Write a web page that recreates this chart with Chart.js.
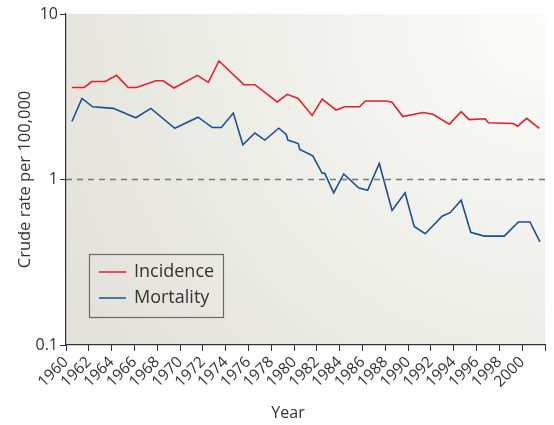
<!DOCTYPE html>
<html>
<head>
<meta charset="utf-8">
<script src="https://cdn.jsdelivr.net/npm/chart.js@4/dist/chart.umd.min.js"></script>
<style>
  body { margin: 0; background: #ffffff; }
  #chart { display: block; }
</style>
</head>
<body>
<canvas id="chart" width="554" height="425"></canvas>
<script>
// Crude incidence and mortality rates per 100,000

const incidenceYears = [1960.52, 1961.60, 1962.27, 1963.44, 1964.44, 1965.45, 1966.19, 1967.87, 1968.51, 1969.47,
  1971.52, 1972.48, 1973.41, 1975.60, 1976.56, 1978.52, 1979.40, 1980.36, 1981.58, 1982.46,
  1983.68, 1984.44, 1985.75, 1986.25, 1988.08, 1988.58, 1989.54, 1991.30, 1992.17, 1993.62,
  1994.65, 1995.35, 1996.75, 1997.04, 1999.22, 1999.60, 2000.40, 2001.50];
const incidence = [3.60, 3.60, 3.91, 3.91, 4.26, 3.60, 3.60, 3.95, 3.95, 3.57,
  4.26, 3.86, 5.20, 3.74, 3.74, 2.94, 3.27, 3.09, 2.44, 3.06,
  2.63, 2.75, 2.75, 2.98, 2.98, 2.93, 2.40, 2.54, 2.48, 2.16,
  2.57, 2.30, 2.33, 2.20, 2.18, 2.10, 2.34, 2.04];

const mortalityYears = [1960.52, 1961.40, 1962.34, 1964.14, 1966.12, 1967.44, 1969.54, 1971.57, 1972.83, 1973.62,
  1974.67, 1975.51, 1976.56, 1977.44, 1978.66, 1979.31, 1979.45, 1980.36, 1980.50, 1981.64,
  1982.46, 1982.69, 1983.47, 1984.35, 1985.66, 1986.45, 1987.47, 1988.59, 1989.73, 1990.53,
  1991.50, 1992.98, 1993.68, 1994.65, 1995.49, 1996.68, 1998.43, 1999.66, 2000.68, 2001.56];
const mortality = [2.24, 3.09, 2.75, 2.69, 2.36, 2.69, 2.04, 2.38, 2.06, 2.06,
  2.52, 1.62, 1.91, 1.73, 2.04, 1.87, 1.73, 1.65, 1.52, 1.39,
  1.09, 1.09, 0.83, 1.08, 0.89, 0.86, 1.25, 0.65, 0.83, 0.52,
  0.47, 0.60, 0.63, 0.75, 0.48, 0.455, 0.455, 0.554, 0.554, 0.42];

const yearRange = [1960, 2002];
const referenceLevel = 1;
const yTickValues = [0.1, 1, 10];
const seriesNames = ['Incidence', 'Mortality'];
const xTitle = 'Year';

const FONT = '"Open Sans", "DejaVu Sans", sans-serif';
const TEXT = '#333333';
const RED = '#e3202b';
const BLUE = '#1d4f8f';

const toPoints = (xs, ys) => xs.map((x, i) => ({ x: x, y: ys[i] }));

// soft grey wash behind the plot, lighter toward the top right
const backgroundPlugin = {
  id: 'plotBackground',
  beforeDraw(chart) {
    const { ctx, chartArea: a } = chart;
    const g = ctx.createRadialGradient(a.right, a.top, 0, a.right, a.top, 560);
    g.addColorStop(0, '#fbfbfa');
    g.addColorStop(0.35, '#f3f3ef');
    g.addColorStop(1, '#e2e2da');
    ctx.save();
    ctx.fillStyle = g;
    ctx.fillRect(a.left, a.top, a.right - a.left, a.bottom - a.top);
    ctx.restore();
  }
};

// boxed legend in the lower left of the plot, plus the x title (sits left of centre)
const boxLegendPlugin = {
  id: 'boxLegend',
  afterDraw(chart) {
    const { ctx, chartArea: a } = chart;
    const x = a.left + 23, y = a.top + 240, w = 134, h = 63;
    ctx.save();
    ctx.strokeStyle = '#6a6a6a';
    ctx.lineWidth = 1.2;
    ctx.strokeRect(x + 0.5, y + 0.5, w, h);
    ctx.font = '18px ' + FONT;
    ctx.textBaseline = 'middle';
    chart.data.datasets.filter(d => seriesNames.includes(d.label)).forEach((d, i) => {
      const ly = y + 18 + i * 26;
      ctx.strokeStyle = d.borderColor;
      ctx.lineWidth = 1.5;
      ctx.beginPath();
      ctx.moveTo(x + 10, ly);
      ctx.lineTo(x + 37, ly);
      ctx.stroke();
      ctx.fillStyle = TEXT;
      ctx.fillText(d.label, x + 45, ly);
    });

    ctx.font = '16px ' + FONT;
    ctx.textAlign = 'center';
    ctx.fillStyle = TEXT;
    ctx.fillText(xTitle, a.left + 222, chart.height - 12);
    ctx.restore();
  }
};

new Chart(document.getElementById('chart'), {
  type: 'line',
  data: {
    datasets: [
      {
        label: 'reference',
        data: [{ x: yearRange[0], y: referenceLevel }, { x: yearRange[1], y: referenceLevel }],
        borderColor: '#777777',
        borderWidth: 1.6,
        borderDash: [6, 5],
        pointRadius: 0,
        order: 3
      },
      {
        label: seriesNames[0],
        data: toPoints(incidenceYears, incidence),
        borderColor: RED,
        borderWidth: 1.6,
        pointRadius: 0,
        tension: 0
      },
      {
        label: seriesNames[1],
        data: toPoints(mortalityYears, mortality),
        borderColor: BLUE,
        borderWidth: 1.6,
        pointRadius: 0,
        tension: 0
      }
    ]
  },
  options: {
    responsive: false,
    animation: false,
    layout: { padding: { top: 14, right: 9, left: 0, bottom: 0 } },
    plugins: {
      legend: { display: false },
      tooltip: { enabled: false }
    },
    scales: {
      x: {
        type: 'linear',
        min: yearRange[0],
        max: yearRange[1],
        afterFit(scale) {
          scale.height = 80;
          scale.paddingLeft = 0;
          scale.paddingRight = 0;
        },
        afterBuildTicks(scale) {
          const t = [];
          for (let v = yearRange[0]; v <= yearRange[1]; v += 2) t.push({ value: v });
          scale.ticks = t;
        },
        border: { display: true, color: '#333333', width: 1.2 },
        grid: { display: true, drawOnChartArea: false, drawTicks: true, tickLength: 6, color: '#333333', lineWidth: 1 },
        ticks: {
          color: TEXT,
          font: { family: FONT, size: 15.5 },
          minRotation: 45,
          maxRotation: 45,
          padding: 2,
          autoSkip: false,
          callback: (v) => (v < yearRange[1] ? String(v) : '')
        }
      },
      y: {
        type: 'logarithmic',
        min: 0.1,
        max: 10,
        afterFit(scale) { scale.width = 66; },
        afterBuildTicks(scale) {
          scale.ticks = yTickValues.map(v => ({ value: v }));
        },
        border: { display: true, color: '#333333', width: 1.2 },
        grid: { display: true, drawOnChartArea: false, drawTicks: true, tickLength: 6, color: '#333333', lineWidth: 1 },
        ticks: {
          color: TEXT,
          font: { family: FONT, size: 16 },
          padding: 2,
          callback: (v) => String(v)
        },
        title: {
          display: true,
          text: 'Crude rate per 100,000',
          color: TEXT,
          font: { family: FONT, size: 16.5 },
          padding: { top: 15, bottom: 0 }
        }
      }
    }
  },
  plugins: [backgroundPlugin, boxLegendPlugin]
});
</script>
</body>
</html>
